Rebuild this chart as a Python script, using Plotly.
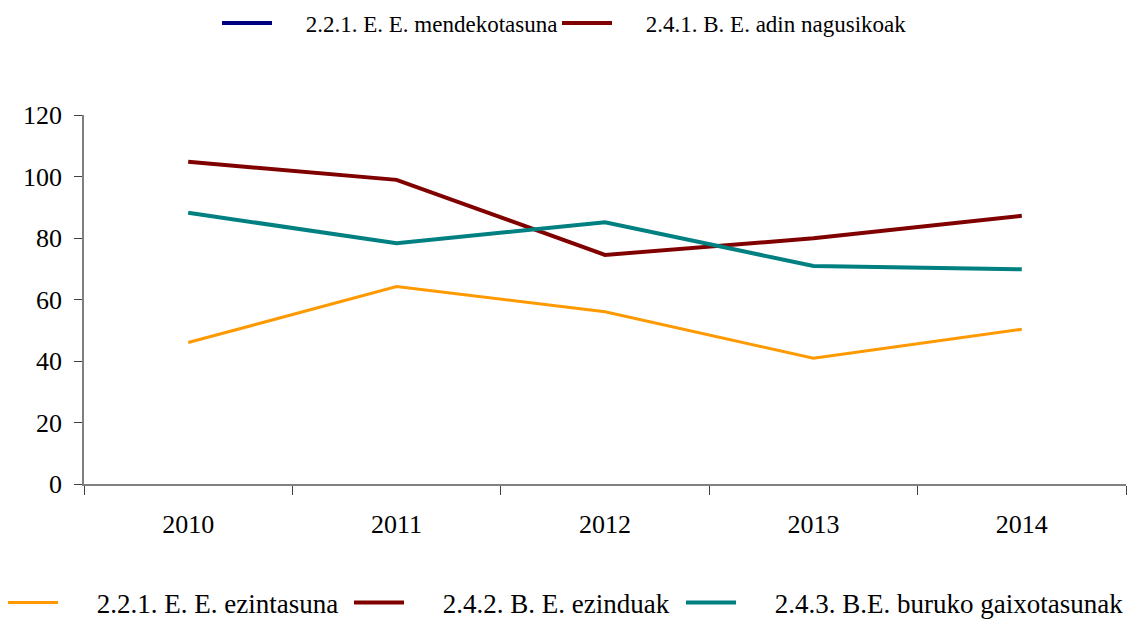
import plotly.graph_objects as go

years = ["2010", "2011", "2012", "2013", "2014"]
mendekotasuna = [None, None, None, None, None]
adin_nagusikoak = [None, None, None, None, None]
ezintasuna = [46.0, 64.2, 56.0, 40.9, 50.3]
ezinduak = [104.8, 98.9, 74.5, 79.9, 87.2]
buruko = [88.2, 78.3, 85.1, 70.9, 69.8]

labels = ["2.2.1. E. E. mendekotasuna", "2.4.1. B. E. adin nagusikoak",
          "2.2.1. E. E. ezintasuna", "2.4.2. B. E. ezinduak",
          "2.4.3. B.E. buruko gaixotasunak"]
series = [mendekotasuna, adin_nagusikoak, ezintasuna, ezinduak, buruko]
colors = ["#000080", "#800000", "#FF9900", "#800000", "#008080"]
widths = [4, 4, 3, 4, 4]

FONT = "Liberation Serif"
# legend layout: (legend id, left px of symbol, centre y px, font size, pad)
legend_pos = [("legend", 222, 23, 23, 5), ("legend2", 562, 23, 23, 5),
              ("legend3", 8, 603, 27, 5), ("legend4", 354, 603, 27, 5),
              ("legend5", 686, 603, 27, 5)]

L, T, W, H = 84, 115, 1042, 369

fig = go.Figure()
legend_layout = {}
for lab, ys, col, w, (lid, lx, ly, fs, pad) in zip(labels, series, colors, widths, legend_pos):
    fig.add_trace(go.Scatter(x=years, y=ys, mode="lines", name="\u00a0" * pad + lab,
                             line=dict(color=col, width=w), legend=lid))
    legend_layout[lid] = dict(orientation="h", x=(lx - 5 - L) / W, xanchor="left",
                              y=1 - (ly - T) / H, yanchor="middle", itemwidth=50,
                              font=dict(size=fs, family=FONT),
                              bgcolor="rgba(0,0,0,0)")

fig.update_layout(
    width=1128, height=621,
    margin=dict(l=L, r=1128 - L - W, t=T, b=621 - T - H, autoexpand=False),
    paper_bgcolor="white", plot_bgcolor="white",
    font=dict(family=FONT, size=22, color="#000000"),
    showlegend=True,
    xaxis=dict(type="category", range=[-0.5, 4.5], showgrid=False, showline=True,
               linecolor="#808080", linewidth=1.5, ticks="outside",
               tickson="boundaries", ticklen=9, tickcolor="#404040",
               tickfont=dict(size=26, family=FONT), ticklabelstandoff=16,
               zeroline=False),
    yaxis=dict(range=[0, 120], dtick=20, showgrid=False, showline=True,
               linecolor="#808080", linewidth=1.5, ticks="outside", ticklen=8,
               tickcolor="#404040", tickfont=dict(size=26, family=FONT),
               ticklabelstandoff=7, zeroline=False),
    **legend_layout,
)

fig.write_html("out.html", config={"displayModeBar": False},
               post_script="document.body.style.margin='0px';document.body.style.padding='0px';")
